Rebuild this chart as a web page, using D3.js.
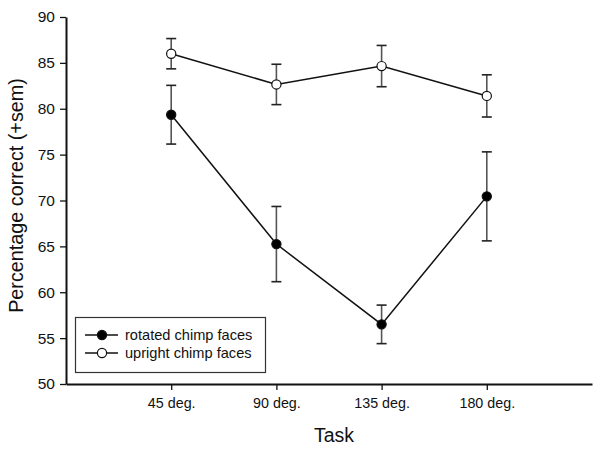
<!DOCTYPE html>
<html>
<head>
<meta charset="utf-8">
<script src="https://cdn.jsdelivr.net/npm/d3@7"></script>
<style>
    body { margin: 0; background: #fff; }
    text { font-family: "Liberation Sans", Arial, sans-serif; fill: #111; }
</style>
</head>
<body>
<div id="chart"></div>
<script>

/* Data -------------------------------------------------------------------- */

const tasks = ["45 deg.", "90 deg.", "135 deg.", "180 deg."];
const rotatedMean = [79.35, 65.25, 56.5, 70.45];
const rotatedSem = [3.2, 4.1, 2.1, 4.85];
const uprightMean = [86.0, 82.65, 84.65, 81.4];
const uprightSem = [1.65, 2.2, 2.25, 2.3];
const yTicks = [50, 55, 60, 65, 70, 75, 80, 85, 90];
const seriesNames = ["rotated chimp faces", "upright chimp faces"];

/* Draw graphic ------------------------------------------------------------ */

function drawGraphic() {

    const width = 600;
    const height = 449;

    const margin = {top: 17, right: 8, bottom: 65, left: 66};

    const series = [
        {name: seriesNames[0], mean: rotatedMean, sem: rotatedSem, fill: "#000"},
        {name: seriesNames[1], mean: uprightMean, sem: uprightSem, fill: "#fff"}
    ];

    // Task positions sit at 1..4 on a 0..5 axis
    const xScale = d3.scaleLinear()
        .domain([0, tasks.length + 1])
        .range([margin.left, width - margin.right]);

    const yScale = d3.scaleLinear()
        .domain([50, 90])
        .range([height - margin.bottom, margin.top]);

    const svg = d3.select("#chart")
        .append("svg")
        .attr("width", width)
        .attr("height", height);

    svg.append("rect")
        .attr("width", width)
        .attr("height", height)
        .attr("fill", "#fff");

    // Y-axis
    const yAxis = svg.append("g")
        .attr("class", "yaxis")
        .attr("transform", `translate(${margin.left},0)`)
        .call(d3.axisLeft(yScale)
            .tickValues(yTicks)
            .tickSize(6)
            .tickSizeOuter(0)
            .tickPadding(5));

    yAxis.select("path").attr("stroke", "#111").attr("stroke-width", 2);
    yAxis.selectAll("line").attr("stroke", "#111").attr("stroke-width", 1.3);
    yAxis.selectAll("text")
        .attr("fill", "#111")
        .style("font-size", "15.5px")
        .style("font-family", "Liberation Sans, Arial, sans-serif");

    // X-axis
    const xAxis = svg.append("g")
        .attr("class", "xaxis")
        .attr("transform", `translate(0,${yScale(50)})`)
        .call(d3.axisBottom(xScale)
            .tickValues(tasks.map((d, i) => i + 1))
            .tickFormat((d, i) => tasks[i])
            .tickSize(6)
            .tickSizeOuter(0)
            .tickPadding(8));

    xAxis.select("path").attr("stroke", "#111").attr("stroke-width", 2);
    xAxis.selectAll("line").attr("stroke", "#111").attr("stroke-width", 1.3);
    xAxis.selectAll("text")
        .attr("fill", "#111")
        .style("font-size", "14.3px")
        .style("font-family", "Liberation Sans, Arial, sans-serif");

    // Axis titles
    svg.append("text")
        .attr("x", 334)
        .attr("y", 442)
        .attr("text-anchor", "middle")
        .style("font-size", "19.5px")
        .text("Task");

    svg.append("text")
        .attr("transform", "translate(23,195.5) rotate(-90)")
        .attr("text-anchor", "middle")
        .style("font-size", "19.8px")
        .text("Percentage correct (+sem)");

    const line = d3.line()
        .x((d, i) => xScale(i + 1))
        .y(d => yScale(d));

    series.forEach(s => {

        const g = svg.append("g").attr("class", "series");

        // Error bars
        s.mean.forEach((m, i) => {
            const x = xScale(i + 1);
            const y0 = yScale(m - s.sem[i]);
            const y1 = yScale(m + s.sem[i]);
            g.append("line")
                .attr("x1", x).attr("x2", x)
                .attr("y1", y0).attr("y2", y1)
                .attr("stroke", "#555")
                .attr("stroke-width", 1.6);
            [y0, y1].forEach(y => {
                g.append("line")
                    .attr("x1", x - 5).attr("x2", x + 5)
                    .attr("y1", y).attr("y2", y)
                    .attr("stroke", "#222")
                    .attr("stroke-width", 1.6);
            });
        });

        // Line
        g.append("path")
            .datum(s.mean)
            .attr("d", line)
            .attr("fill", "none")
            .attr("stroke", "#111")
            .attr("stroke-width", 1.5);

        // Markers
        g.selectAll("circle")
            .data(s.mean)
            .join("circle")
            .attr("cx", (d, i) => xScale(i + 1))
            .attr("cy", d => yScale(d))
            .attr("r", 4.6)
            .attr("fill", s.fill)
            .attr("stroke", "#111")
            .attr("stroke-width", 1.2);
    });

    // Legend
    const legend = svg.append("g").attr("class", "legend");

    legend.append("rect")
        .attr("x", 75.5)
        .attr("y", 317.5)
        .attr("width", 190)
        .attr("height", 55)
        .attr("fill", "#fff")
        .attr("stroke", "#333")
        .attr("stroke-width", 1.2);

    series.forEach((s, i) => {
        const y = 335 + i * 18;
        legend.append("line")
            .attr("x1", 85).attr("x2", 118)
            .attr("y1", y).attr("y2", y)
            .attr("stroke", "#111")
            .attr("stroke-width", 1.5);
        legend.append("circle")
            .attr("cx", 102)
            .attr("cy", y)
            .attr("r", 4.6)
            .attr("fill", s.fill)
            .attr("stroke", "#111")
            .attr("stroke-width", 1.2);
        legend.append("text")
            .attr("x", 125)
            .attr("y", y + 5)
            .style("font-size", "14.6px")
            .text(s.name);
    });
}

drawGraphic();
</script>
</body>
</html>
